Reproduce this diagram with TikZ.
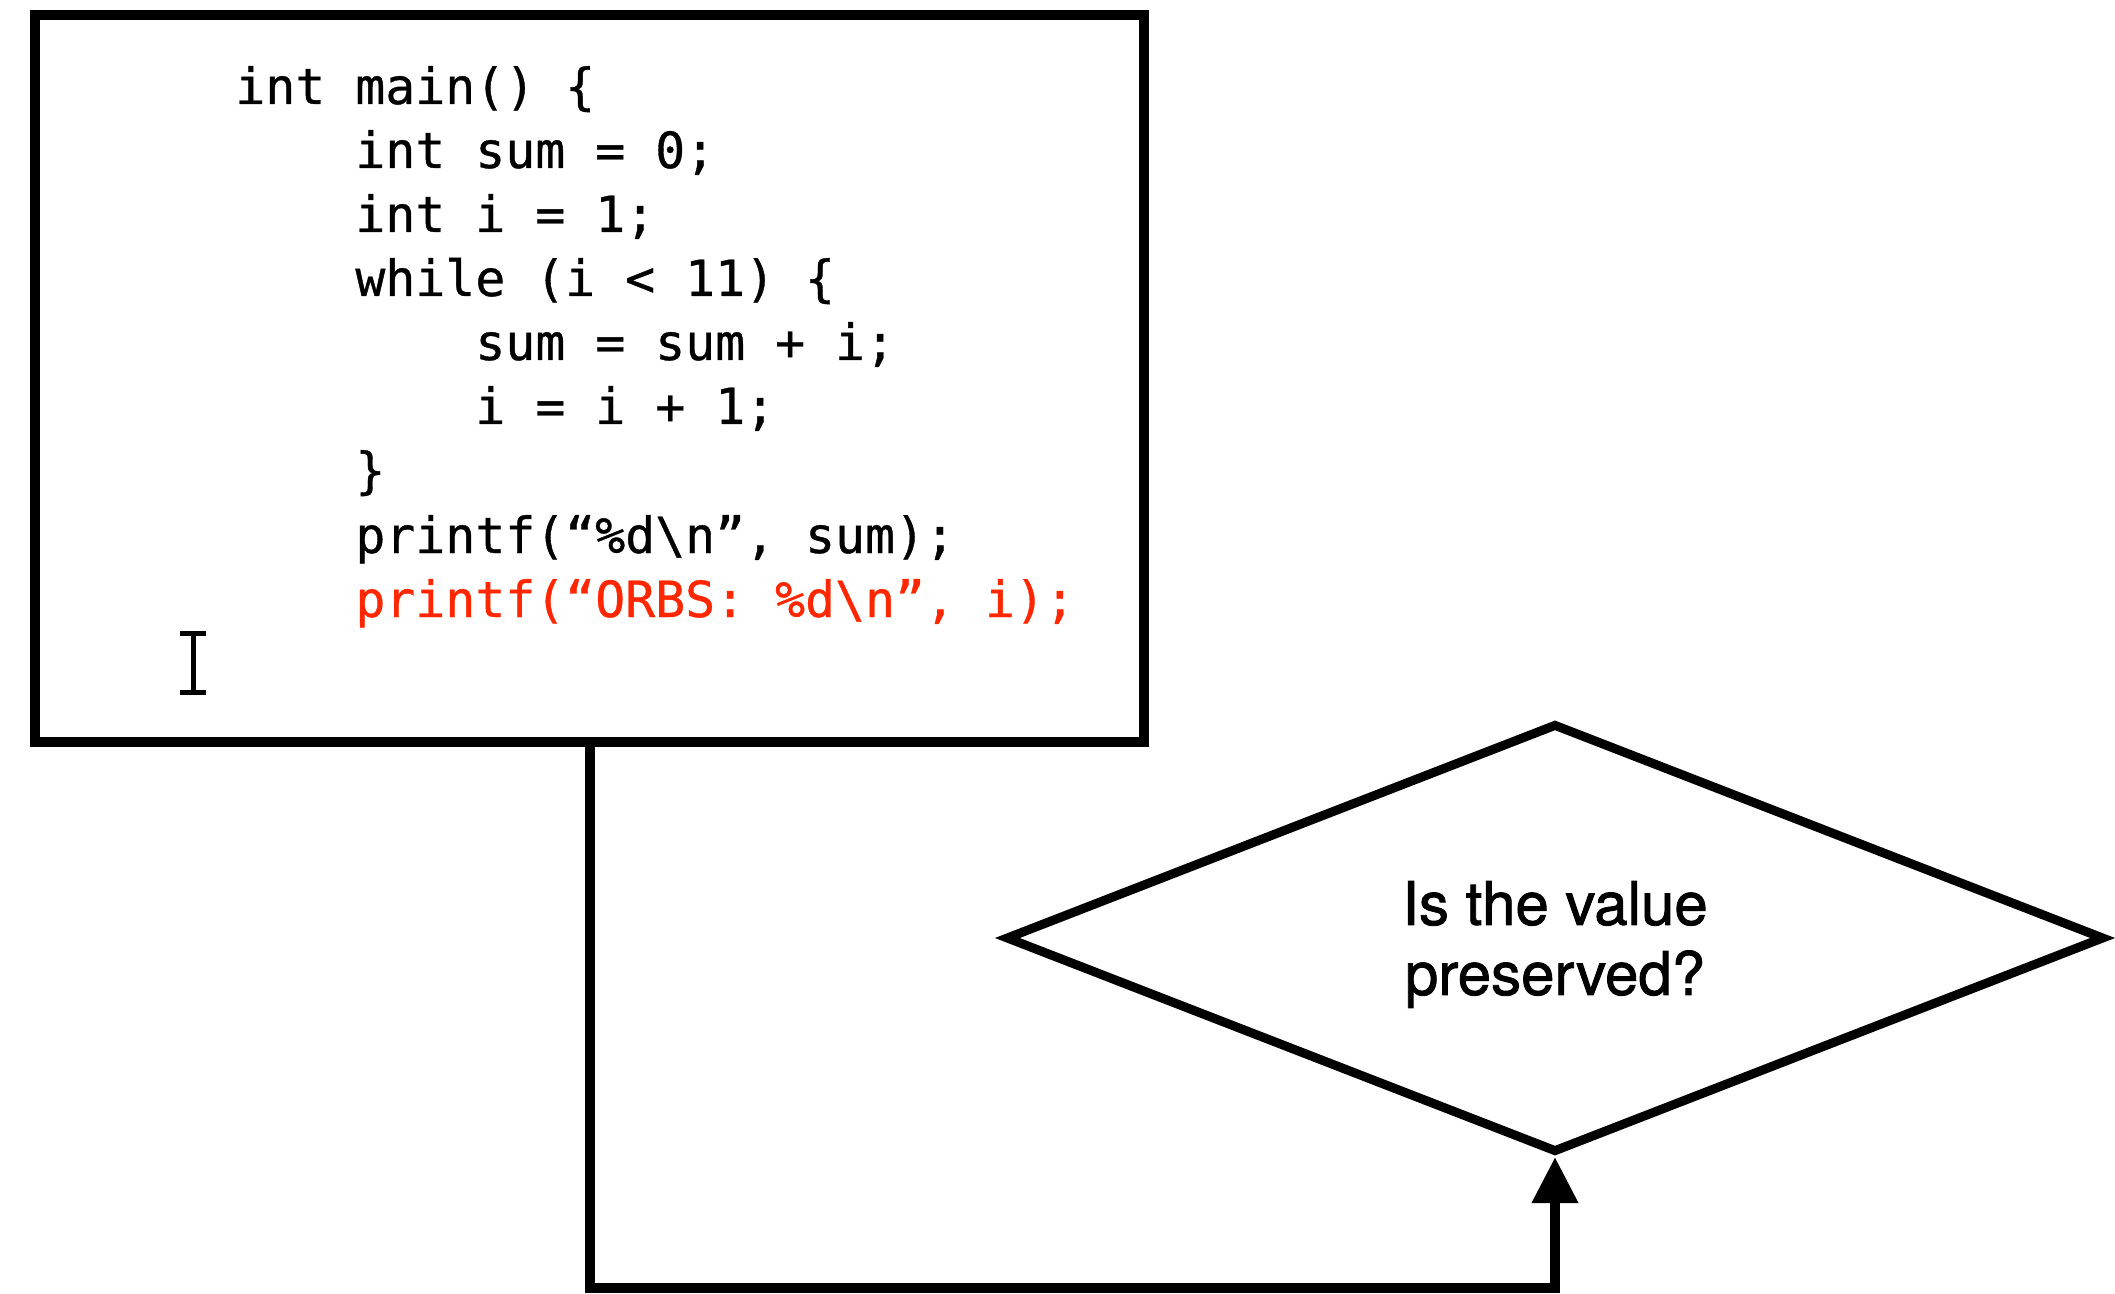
\documentclass[tikz,border=0pt]{standalone}
\usepackage{fontspec}
\usetikzlibrary{shapes.geometric,arrows.meta}
\newfontfamily\codefont[FakeBold=0.7]{DejaVu Sans Mono}
\newfontfamily\labelfont[FakeBold=1.4]{TeX Gyre Heros}
\definecolor{orbsred}{RGB}{255,38,0}

\begin{document}
\begin{tikzpicture}[x=0.5pt,y=-0.5pt]

    \tikzset{
      code/.style={
        anchor=base west,
        inner sep=0pt,
        font=\codefont\fontsize{24.9}{30}\selectfont,
      },
      progbox/.style={
        draw,
        line width=5pt,
        minimum width=554.5pt,
        minimum height=363.5pt,
      },
      question/.style={
        draw,
        diamond,
        aspect=2.5,
        line width=4.5pt,
        inner sep=0pt,
        text depth=0pt,
        minimum width=549.5pt,
        minimum height=214.5pt,
        align=center,
        font=\labelfont\fontsize{30}{35}\selectfont,
      },
      flow/.style={
        line width=5pt,
        -{Triangle[width=22pt,length=23pt]},
      },
    }
    \useasboundingbox (0,0) rectangle (2115,1294);

	\node[progbox] (prog) at (589.5,378.5) {};
	\node[question] (check) at (1555,938) {Is the value\\preserved?};

	% program text, one node per line
	\node[code] (l1) at (235,104) {int main() \{};
	\node[code] (l2) at (355,168) {int sum = 0;};
	\node[code] (l3) at (355,232) {int i = 1;};
	\node[code] (l4) at (355,296) {while (i < 11) \{};
	\node[code] (l5) at (475,360) {sum = sum + i;};
	\node[code] (l6) at (475,424) {i = i + 1;};
	\node[code] (l7) at (355,488) {\}};
	\node[code] (l8) at (355,553) {printf(“\%d\textbackslash n”, sum);};
	\node[code, text=orbsred] (l9) at (355,617) {printf(“ORBS: \%d\textbackslash n”, i);};

	% text cursor
	\draw[line width=2.5pt] (180,633.5)--(206,633.5) (193,633.5)--(193,692) (180,692)--(206,692);

	\coordinate (low) at (0,1288);
	\draw[flow] (prog.south) -- (prog.south |- low) -- (check.south |- low) -- (check.south);

\end{tikzpicture}
\end{document}
